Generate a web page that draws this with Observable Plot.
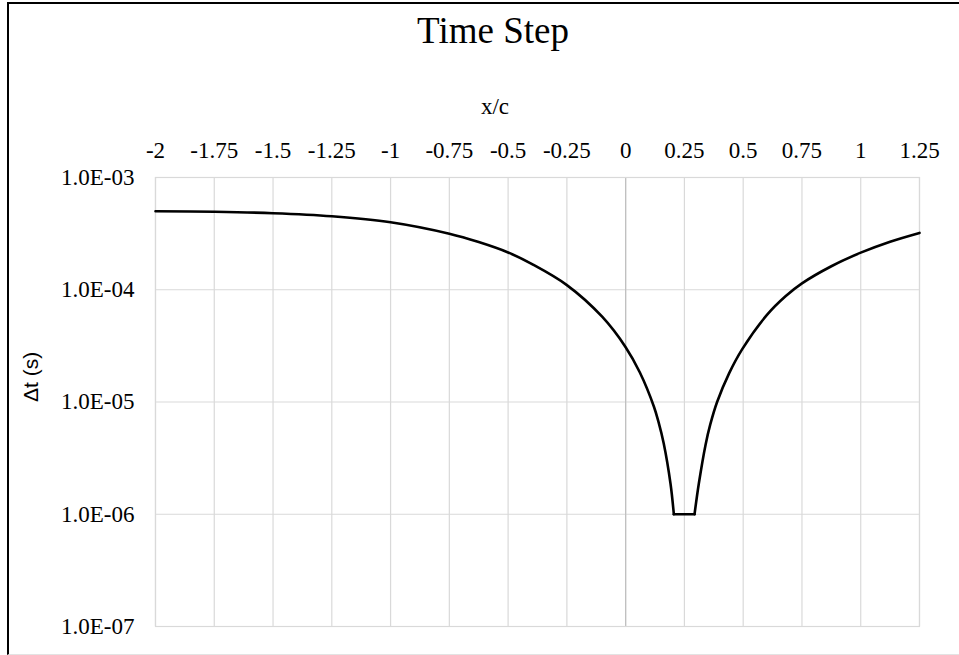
<!DOCTYPE html>
<html>
<head>
<meta charset="utf-8">
<script src="https://cdn.jsdelivr.net/npm/d3@7"></script>
<script src="https://cdn.jsdelivr.net/npm/@observablehq/plot@0.6"></script>
<style>
  body { margin: 0; background: #fff; }
  #wrap { position: relative; width: 959px; height: 655px; overflow: hidden; }
  #frame { position: absolute; left: 7px; top: 2px; width: 1000px; height: 650px;
           border-top: 2px solid #000; border-left: 2px solid #000; border-bottom: 1px solid #e3e3e3; pointer-events: none; }
  #title { font-family: "Liberation Serif", serif; font-size: 37px; height: 56px; line-height: 56px;
           padding-top: 3px; padding-left: 27px; text-align: center; color: #000; }
  #xlabel { font-family: "Liberation Serif", serif; font-size: 23px; height: 30px; line-height: 30px;
            margin-top: 33px; padding-left: 31px; text-align: center; color: #000; }
  #chart svg { display: block; }
</style>
</head>
<body>
<div id="wrap">
  <div id="title"></div>
  <div id="xlabel"></div>
  <div id="chart"></div>
  <div id="frame"></div>
</div>
<script>
const chartTitle = "Time Step";
const xAxisLabel = "x/c";
const yAxisLabel = "Δt (s)";

const xTicks = [-2, -1.75, -1.5, -1.25, -1, -0.75, -0.5, -0.25, 0, 0.25, 0.5, 0.75, 1, 1.25];
const yTicks = [1e-7, 1e-6, 1e-5, 1e-4, 1e-3];
const yTickLabels = ["1.0E-07", "1.0E-06", "1.0E-05", "1.0E-04", "1.0E-03"];

// Left branch (x/c, Δt in s)
const leftX  = [-2, -1.75, -1.5, -1.25, -1, -0.75, -0.625, -0.5, -0.4, -0.25, -0.1, 0, 0.06, 0.12, 0.14, 0.162, 0.191, 0.205];
const leftDt = [5.01e-4, 4.95e-4, 4.81e-4, 4.52e-4, 4.0e-4, 3.16e-4, 2.66e-4, 2.15e-4, 1.70e-4, 1.10e-4, 5.75e-5, 3.08e-5, 1.84e-5, 9.12e-6, 6.61e-6, 4.27e-6, 1.86e-6, 1.0e-6];
// Right branch (x/c, Δt in s)
const rightX  = [0.293, 0.311, 0.34, 0.36, 0.389, 0.44, 0.496, 0.602, 0.68, 0.75, 0.875, 1.0, 1.125, 1.25];
const rightDt = [1.0e-6, 1.86e-6, 4.17e-6, 6.31e-6, 1.0e-5, 1.80e-5, 2.96e-5, 6.0e-5, 8.75e-5, 1.14e-4, 1.62e-4, 2.14e-4, 2.68e-4, 3.21e-4];

document.getElementById("title").textContent = chartTitle;
document.getElementById("xlabel").textContent = xAxisLabel;

const left = leftX.map((x, i) => ({x, dt: leftDt[i]}));
const right = rightX.map((x, i) => ({x, dt: rightDt[i]}));
const floor = [left[left.length - 1], right[0]];
const yLabelMap = new Map(yTicks.map((t, i) => [t, yTickLabels[i]]));

const grid = "#d9d9d9";
const plot = Plot.plot({
  width: 959,
  height: 533,
  marginLeft: 155,
  marginRight: 40,
  marginTop: 55,
  marginBottom: 29,
  style: {fontFamily: "Liberation Serif, serif", fontSize: "23px", color: "#000", background: "#fff"},
  x: {domain: [-2, 1.25]},
  y: {type: "log", domain: [1e-7, 1e-3]},
  marks: [
    Plot.gridX(xTicks, {stroke: grid, strokeOpacity: 1, strokeWidth: 1.2}),
    Plot.gridY(yTicks, {stroke: grid, strokeOpacity: 1, strokeWidth: 1.2}),
    Plot.ruleX([0], {stroke: "#bfbfbf", strokeWidth: 1.2}),
    Plot.frame({stroke: grid, strokeWidth: 1.2}),
    Plot.axisX(xTicks, {anchor: "top", tickSize: 0, tickPadding: 20, label: null, fontSize: 23, tickFormat: d => String(d)}),
    Plot.axisY(yTicks, {anchor: "left", tickSize: 0, tickPadding: 21, label: null, fontSize: 23, tickFormat: d => yLabelMap.get(d)}),
    Plot.line(left, {x: "x", y: "dt", stroke: "#000", strokeWidth: 2.6, curve: "catmull-rom"}),
    Plot.line(floor, {x: "x", y: "dt", stroke: "#000", strokeWidth: 2.6}),
    Plot.line(right, {x: "x", y: "dt", stroke: "#000", strokeWidth: 2.6, curve: "catmull-rom"}),
    Plot.text([yAxisLabel], {frameAnchor: "left", text: d => d, rotate: -90, dx: -124,
      fontFamily: "Liberation Sans, sans-serif", fontSize: 21, fill: "#000"})
  ]
});
document.getElementById("chart").appendChild(plot);
</script>
</body>
</html>
